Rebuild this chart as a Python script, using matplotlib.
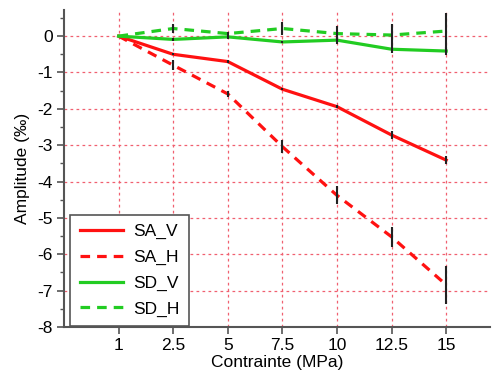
import numpy as np
import matplotlib
matplotlib.use("Agg")
import matplotlib.pyplot as plt
from matplotlib.ticker import MultipleLocator

plt.rcParams['font.family'] = ['Liberation Sans', 'DejaVu Sans']
plt.rcParams['axes.unicode_minus'] = False

# stress levels (categorical axis)
contrainte = ['1', '2.5', '5', '7.5', '10', '12.5', '15']

sa_v = [0.0, -0.50, -0.70, -1.46, -1.94, -2.72, -3.41]
sa_h = [0.0, -0.80, -1.59, -3.04, -4.38, -5.52, -6.84]
sd_v = [0.0, -0.09, -0.02, -0.16, -0.11, -0.36, -0.41]
sd_h = [0.0, 0.21, 0.07, 0.21, 0.07, 0.03, 0.14]

# error bars (half widths)
sa_v_err = [0.0, 0.03, 0.05, 0.03, 0.04, 0.11, 0.11]
sa_h_err = [0.0, 0.14, 0.09, 0.18, 0.25, 0.28, 0.53]
sd_v_err = [0.0, 0.03, 0.05, 0.03, 0.10, 0.10, 0.10]
sd_h_err = [0.0, 0.12, 0.05, 0.18, 0.20, 0.30, 0.50]

x = np.arange(len(contrainte))

fig = plt.figure(figsize=(4.94, 3.73), dpi=100)
ax = fig.add_axes([0.1296, 0.1233, 0.862, 0.85])

red = '#ff1111'
green = '#22cc22'

l1, = ax.plot(x, sa_v, color=red, lw=2.3)
l2, = ax.plot(x, sa_h, color=red, lw=2.3, dashes=(3, 2.2))
l3, = ax.plot(x, sd_v, color=green, lw=2.3)
l4, = ax.plot(x, sd_h, color=green, lw=2.3, dashes=(3, 2.2))

for vals, err in [(sa_v, sa_v_err), (sa_h, sa_h_err), (sd_v, sd_v_err), (sd_h, sd_h_err)]:
    ax.errorbar(x[1:], vals[1:], yerr=err[1:], fmt='none', ecolor='#222222',
                elinewidth=1.5, capsize=0, zorder=4)

ax.set_xlim(-1, 6.8)
ax.set_ylim(-8, 0.72)
ax.set_xticks(x)
ax.set_xticklabels(contrainte)
ax.set_yticks(np.arange(-8, 1, 1))
ax.yaxis.set_minor_locator(MultipleLocator(0.5))

ax.grid(True, which='major', color='#f06070', ls=(0, (2.2, 2.6)), lw=0.9)
ax.set_axisbelow(True)

for s in ['top', 'right']:
    ax.spines[s].set_visible(False)
for s in ['left', 'bottom']:
    ax.spines[s].set_color('#555555')
    ax.spines[s].set_linewidth(1.5)

ax.tick_params(axis='both', which='major', labelsize=12.5, length=5, width=1.2,
               color='#555555', pad=3)
ax.tick_params(axis='y', which='minor', length=3, width=1, color='#555555')

ax.set_xlabel('Contrainte (MPa)', fontsize=12.5, labelpad=1)
ax.set_ylabel('Amplitude (‰)', fontsize=12.5, labelpad=5)

leg = ax.legend([l1, l2, l3, l4], ['SA_V', 'SA_H', 'SD_V', 'SD_H'],
                loc='lower left', bbox_to_anchor=(0.012, 0.0), borderaxespad=0.05,
                fontsize=12.5, fancybox=False, framealpha=1, edgecolor='#555555',
                handlelength=2.5, handletextpad=0.6, labelspacing=0.6,
                borderpad=0.55)
leg.get_frame().set_linewidth(1.2)

fig.savefig('out.png', dpi=100)
